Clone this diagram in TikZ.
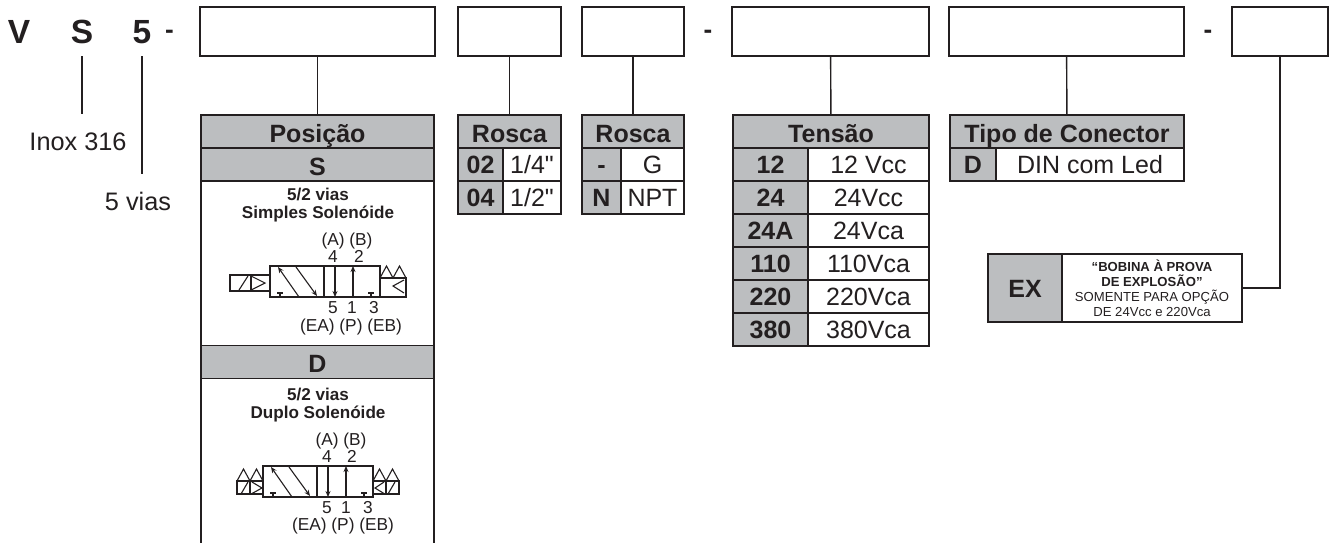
\documentclass[tikz,border=0pt]{standalone}
\usepackage{fontspec}
\setmainfont[Ligatures=TeXOff]{Liberation Sans}
\usetikzlibrary{arrows.meta}
\definecolor{ink}{HTML}{231F20}
\definecolor{cinza}{HTML}{BCBEC0}
\tikzset{
  slot/.style={draw=ink,line width=1.4pt,inner sep=0pt,minimum height=49pt},
  wire/.style={draw=ink,line width=1.4pt},
  head/.style={draw=ink,fill=cinza,line width=1.4pt,inner sep=0pt,minimum height=33pt,text height=21pt,text depth=0pt,text=ink,font=\fontsize{25}{25}\selectfont\bfseries},
  key/.style={draw=ink,fill=cinza,line width=1.4pt,inner sep=0pt,minimum height=33pt,text height=18pt,text depth=0pt,text=ink,font=\fontsize{25}{25}\selectfont\bfseries},
  val/.style={draw=ink,fill=white,line width=1.4pt,inner sep=0pt,minimum height=33pt,text height=18pt,text depth=0pt,text=ink,font=\fontsize{25}{25}\selectfont},
  big/.style={anchor=base,inner sep=0pt,text=ink,font=\fontsize{33.5}{33.5}\selectfont\bfseries},
  hifen/.style={anchor=base,inner sep=0pt,text=ink,font=\fontsize{26}{26}\selectfont\bfseries},
  lab/.style={anchor=base,inner sep=0pt,text=ink,font=\fontsize{25.3}{25.3}\selectfont},
  via/.style={anchor=base,inner sep=0pt,align=center,text=ink,font=\fontsize{17.1}{18}\selectfont\bfseries},
  porta/.style={anchor=base,inner sep=0pt,text=ink,font=\fontsize{17.3}{17.3}\selectfont},
  sym/.style={draw=ink,line width=1.1pt},
  valve core/.pic={
    \draw[sym] (0,0) rectangle (110,31);
    \draw[sym] (54,0)--(54,31);
    \draw[sym,<-] (8,1)--(29,31);
    \draw[sym,->] (26,1)--(47,30);
    \draw[sym,->] (65,0)--(65,31);
    \draw[sym,->] (83,31)--(83,0);
    \draw[sym] (10,31)--(10,27) (7,27)--(13,27);
    \draw[sym] (101,31)--(101,27) (98,27)--(104,27);
  },
  mola/.pic={
    \draw[sym] (0,12)--(6.5,0)--(13,12)--(19.5,0)--(26,12);
  },
}
\begin{document}
\begin{tikzpicture}[x=1pt,y=-1pt,>={Stealth[length=6pt,width=5pt]}]
\useasboundingbox (0,0) rectangle (1333,542);
% codigo
\node[big] (cV) at (19,43) {V};
\node[big] (cS) at (82,43) {S};
\node[big] (c5) at (142,43) {5};
\node[hifen] (d1) at (169.5,38) {-};
\node[hifen] (d2) at (708,38) {-};
\node[hifen] (d3) at (1208,38) {-};
\node[slot,minimum width=235pt] (b1) at (317.5,31.5) {};
\node[slot,minimum width=103pt] (b2) at (509.5,31.5) {};
\node[slot,minimum width=102pt] (b3) at (633,31.5) {};
\node[slot,minimum width=197pt] (b4) at (830.5,31.5) {};
\node[slot,minimum width=235pt] (b5) at (1066.5,31.5) {};
\node[slot,minimum width=96pt] (b6) at (1280,31.5) {};
\coordinate (fS) at (82,56);
\coordinate (tS) at (82,114);
\coordinate (f5) at (142,56);
\coordinate (t5) at (142,174);
\draw[wire] (fS)--(tS);
\draw[wire] (f5)--(t5);
\node[lab] (inox) at (78,150) {Inox 316};
\node[lab] (vias) at (138,210) {5 vias};

% posicao
\node[head,minimum width=233pt] (pos) at (317.5,131.5) {Posição};
\node[head,minimum width=233pt] (posS) at (317.5,164.5) {S};
\node[head,minimum width=233pt] (posD) at (317.5,362) {D};
\draw[wire] (b1)--(pos);
\draw[wire] (201,181)--(201,345) (434,181)--(434,345);
\draw[wire] (201,379)--(201,543) (434,379)--(434,543);

\node[via] (viaS) at (318,218) {5/2 vias\\Simples Solenóide};
\node[porta] (sAB) at (347,245) {(A) (B)};
\node[porta] (s4) at (333,262) {4};
\node[porta] (s2) at (359,262) {2};
\node[porta] (s5) at (333,313) {5};
\node[porta] (s1) at (352,313) {1};
\node[porta] (s3) at (374,313) {3};
\node[porta] (sE) at (351,331) {(EA) (P) (EB)};
\pic at (270,266) {valve core};
\draw[sym] (270,275)--(230,275)--(230,291)--(270,291);
\draw[sym] (251,275)--(251,291);
\draw[sym] (239,290)--(248,276);
\draw[sym] (252,276.5)--(265,283)--(252,289.5);
\draw[sym] (380,278)--(406,278)--(406,297)--(380,297);
\draw[sym] (404,280)--(393,286)--(404,293);
\pic at (380,266) {mola};

\node[via] (viaD) at (318,418) {5/2 vias\\Duplo Solenóide};
\node[porta] (dAB) at (341,445) {(A) (B)};
\node[porta] (d4) at (327,462) {4};
\node[porta] (d22) at (352,462) {2};
\node[porta] (d5) at (327,513) {5};
\node[porta] (d11) at (346,513) {1};
\node[porta] (d33) at (368,513) {3};
\node[porta] (dE) at (343,530) {(EA) (P) (EB)};
\pic at (263,466) {valve core};
\draw[sym] (263,481)--(237,481)--(237,494)--(263,494);
\draw[sym] (250,481)--(250,494);
\draw[sym] (241,494)--(248,482);
\draw[sym] (252,482)--(262,488)--(252,493.5);
\pic at (237,469) {mola};
\draw[sym] (373,481)--(399,481)--(399,494)--(373,494);
\draw[sym] (386,481)--(386,494);
\draw[sym] (384,482)--(375,488)--(384,493.5);
\draw[sym] (388,494)--(395,482);
\pic at (373,469) {mola};

% rosca
\node[head,minimum width=103pt] (r1) at (509.5,131.5) {Rosca};
\draw[wire] (b2)--(r1);
\node[key,minimum width=45pt] (r1a) at (480.5,164.5) {02};
\node[val,minimum width=58pt] (r1b) at (532,164.5) {1/4"};
\node[key,minimum width=45pt] (r1c) at (480.5,197.5) {04};
\node[val,minimum width=58pt] (r1d) at (532,197.5) {1/2"};

\node[head,minimum width=102pt] (r2) at (633,131.5) {Rosca};
\draw[wire] (b3)--(r2);
\node[key,minimum width=39pt] (r2a) at (601.5,164.5) {-};
\node[val,minimum width=63pt] (r2b) at (652.5,164.5) {G};
\node[key,minimum width=39pt] (r2c) at (601.5,197.5) {N};
\node[val,minimum width=63pt] (r2d) at (652.5,197.5) {NPT};

% tensao
\node[head,minimum width=196pt] (ten) at (831,131.5) {Tensão};
\draw[wire] (b4)--(ten);
\foreach \y/\a/\b in {164.5/12/12 Vcc,197.5/24/24Vcc,230.5/24A/24Vca,263.5/110/110Vca,296.5/220/220Vca,329.5/380/380Vca}{
  \node[key,minimum width=75pt] (k\a) at (770.5,\y) {\a};
  \node[val,minimum width=121pt] (v\a) at (868.5,\y) {\b};
}

% conector
\node[head,minimum width=234pt] (con) at (1067,131.5) {Tipo de Conector};
\draw[wire] (b5)--(con);
\node[key,minimum width=46pt] (conD) at (973,164.5) {D};
\node[val,minimum width=188pt] (conL) at (1090,164.5) {DIN com Led};

% opcao EX
\node[key,minimum width=74pt,minimum height=68pt] (ex) at (1025,288) {EX};
\node[draw=ink,line width=1.4pt,minimum width=180pt,minimum height=68pt,inner sep=0pt,align=center,text=ink,font=\fontsize{13.1}{15}\selectfont] (exT) at (1152,288) {\textbf{“BOBINA À PROVA}\\\textbf{DE EXPLOSÃO”}\\SOMENTE PARA OPÇÃO\\DE 24Vcc e 220Vca};
\draw[wire] (b6.south) |- (exT.east);
\end{tikzpicture}
\end{document}
